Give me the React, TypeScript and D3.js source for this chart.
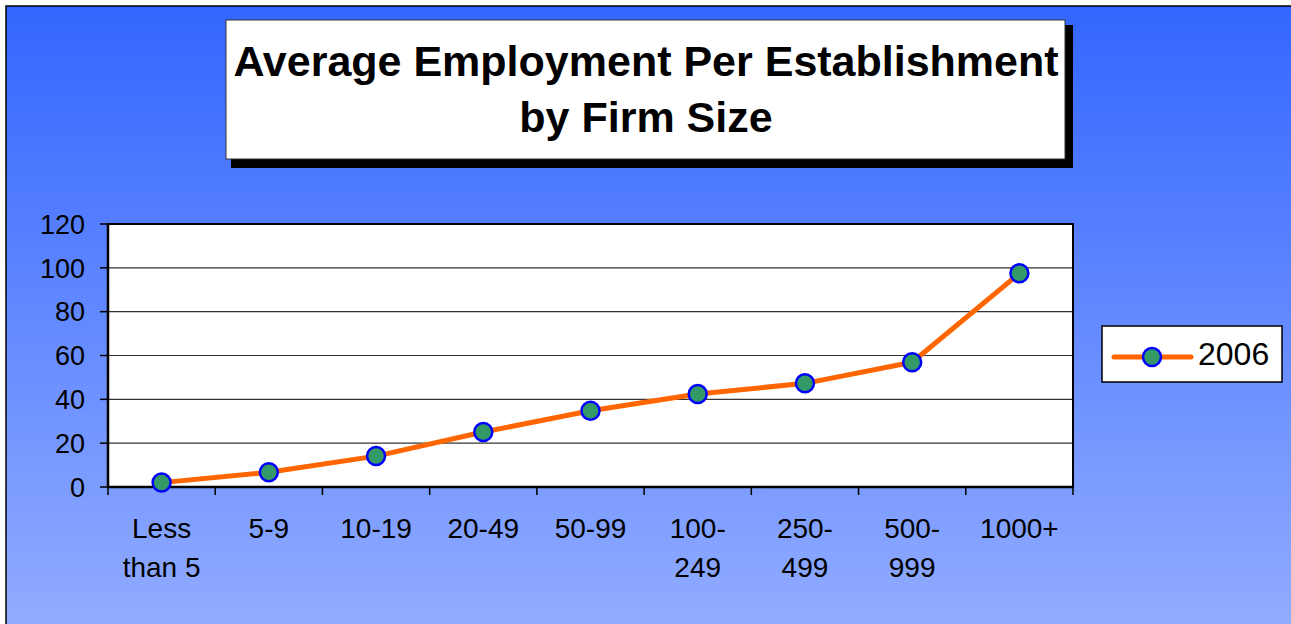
import { useEffect, useRef } from "react";
import * as d3 from "d3";

// Chart data
const categories = ["Less\nthan 5", "5-9", "10-19", "20-49", "50-99", "100-\n249", "250-\n499", "500-\n999", "1000+"];
const values2006 = [2, 6.7, 14.1, 25.1, 34.8, 42.4, 47.3, 56.9, 97.5];
const yTicks = [0, 20, 40, 60, 80, 100, 120];
const seriesName = "2006";
const titleLines = ["Average Employment Per Establishment", "by Firm Size"];

const FONT = "Arial, 'Liberation Sans', sans-serif";

export default function App() {
  const ref = useRef<SVGSVGElement>(null);

  useEffect(() => {
    if (!ref.current) return;
    const svg = d3.select(ref.current);
    svg.selectAll("*").remove();

    const width = 1291;
    const height = 624;

    // Plot area bounds
    const left = 108;
    const right = 1073;
    const top = 224;
    const bottom = 487;

    // Background gradient
    const defs = svg.append("defs");
    const grad = defs.append("linearGradient")
      .attr("id", "bg")
      .attr("x1", 0).attr("y1", 0).attr("x2", 0).attr("y2", 1);
    grad.append("stop").attr("offset", "0%").attr("stop-color", "#3366ff");
    grad.append("stop").attr("offset", "100%").attr("stop-color", "#92acff");

    svg.append("rect")
      .attr("x", 6).attr("y", 6)
      .attr("width", width).attr("height", height)
      .attr("fill", "url(#bg)")
      .attr("stroke", "#000")
      .attr("stroke-width", 1.5);

    // Title box with drop shadow
    svg.append("rect")
      .attr("x", 231).attr("y", 25)
      .attr("width", 842).attr("height", 143)
      .attr("fill", "#000");
    svg.append("rect")
      .attr("x", 226).attr("y", 20)
      .attr("width", 839).attr("height", 139)
      .attr("fill", "#fff")
      .attr("stroke", "#333")
      .attr("stroke-width", 1);
    svg.append("g")
      .selectAll("text")
      .data(titleLines)
      .enter().append("text")
      .attr("x", 646)
      .attr("y", (_, i) => 76 + i * 56)
      .attr("text-anchor", "middle")
      .attr("font-family", FONT)
      .attr("font-weight", "bold")
      .attr("font-size", 43)
      .attr("fill", "#000")
      .text(d => d);

    // Scales
    const x = d3.scaleBand().domain(categories).range([left, right]);
    const y = d3.scaleLinear().domain([0, 120]).range([bottom, top]);

    // Plot area
    svg.append("rect")
      .attr("x", left).attr("y", top)
      .attr("width", right - left).attr("height", bottom - top)
      .attr("fill", "#fff");

    // Gridlines
    svg.append("g")
      .selectAll("line")
      .data(yTicks.filter(t => t > 0 && t < 120))
      .enter().append("line")
      .attr("x1", left).attr("x2", right)
      .attr("y1", d => y(d)).attr("y2", d => y(d))
      .attr("stroke", "#333")
      .attr("stroke-width", 1.2);

    // Plot border
    svg.append("rect")
      .attr("x", left).attr("y", top)
      .attr("width", right - left).attr("height", bottom - top)
      .attr("fill", "none")
      .attr("stroke", "#000")
      .attr("stroke-width", 2);

    // Y axis ticks and labels
    const yAxis = svg.append("g");
    yAxis.selectAll("line")
      .data(yTicks)
      .enter().append("line")
      .attr("x1", left - 8).attr("x2", left)
      .attr("y1", d => y(d)).attr("y2", d => y(d))
      .attr("stroke", "#000")
      .attr("stroke-width", 1.5);
    yAxis.selectAll("text")
      .data(yTicks)
      .enter().append("text")
      .attr("x", 85)
      .attr("y", d => y(d))
      .attr("dy", "0.36em")
      .attr("text-anchor", "end")
      .attr("font-family", FONT)
      .attr("font-size", 27)
      .attr("fill", "#000")
      .text(d => d);

    // X axis line, ticks at band edges, labels
    svg.append("line")
      .attr("x1", left).attr("x2", right)
      .attr("y1", bottom).attr("y2", bottom)
      .attr("stroke", "#000")
      .attr("stroke-width", 2.5);
    svg.append("line")
      .attr("x1", left).attr("x2", left)
      .attr("y1", top).attr("y2", bottom)
      .attr("stroke", "#000")
      .attr("stroke-width", 2.5);
    const edges = categories.map(c => x(c) as number).concat([right]);
    svg.append("g")
      .selectAll("line")
      .data(edges)
      .enter().append("line")
      .attr("x1", d => d).attr("x2", d => d)
      .attr("y1", bottom).attr("y2", bottom + 8)
      .attr("stroke", "#000")
      .attr("stroke-width", 1.5);
    const xLabels = svg.append("g")
      .selectAll("text")
      .data(categories)
      .enter().append("text")
      .attr("x", d => (x(d) as number) + x.bandwidth() / 2)
      .attr("y", 538)
      .attr("text-anchor", "middle")
      .attr("font-family", FONT)
      .attr("font-size", 28)
      .attr("fill", "#000");
    xLabels.selectAll("tspan")
      .data(d => d.split("\n"))
      .enter().append("tspan")
      .attr("x", function () {
        return (this.parentNode as SVGTextElement).getAttribute("x");
      })
      .attr("dy", (_, i) => (i === 0 ? 0 : 39))
      .text(d => d);

    // Series line and markers
    const points = categories.map((c, i) => ({ c, v: values2006[i] }));
    const line = d3.line<{ c: string; v: number }>()
      .x(d => (x(d.c) as number) + x.bandwidth() / 2)
      .y(d => y(d.v));
    svg.append("path")
      .datum(points)
      .attr("d", line)
      .attr("fill", "none")
      .attr("stroke", "#ff6600")
      .attr("stroke-width", 5)
      .attr("stroke-linejoin", "round");
    svg.append("g")
      .selectAll("circle")
      .data(points)
      .enter().append("circle")
      .attr("cx", d => (x(d.c) as number) + x.bandwidth() / 2)
      .attr("cy", d => y(d.v))
      .attr("r", 9)
      .attr("fill", "#339966")
      .attr("stroke", "#0000ff")
      .attr("stroke-width", 2.5);

    // Legend
    const legend = svg.append("g");
    legend.append("rect")
      .attr("x", 1102).attr("y", 326)
      .attr("width", 180).attr("height", 56)
      .attr("fill", "#fff")
      .attr("stroke", "#000")
      .attr("stroke-width", 1.5);
    legend.append("line")
      .attr("x1", 1114).attr("x2", 1191)
      .attr("y1", 357).attr("y2", 357)
      .attr("stroke", "#ff6600")
      .attr("stroke-width", 5)
      .attr("stroke-linecap", "round");
    legend.append("circle")
      .attr("cx", 1152).attr("cy", 357)
      .attr("r", 9)
      .attr("fill", "#339966")
      .attr("stroke", "#0000ff")
      .attr("stroke-width", 2.5);
    legend.append("text")
      .attr("x", 1198).attr("y", 365)
      .attr("font-family", FONT)
      .attr("font-size", 32)
      .attr("fill", "#000")
      .text(seriesName);
  }, []);

  return (
    <svg
      ref={ref}
      width={1291}
      height={624}
      style={{ position: "absolute", left: 0, top: 0, background: "#fff" }}
    />
  );
}
